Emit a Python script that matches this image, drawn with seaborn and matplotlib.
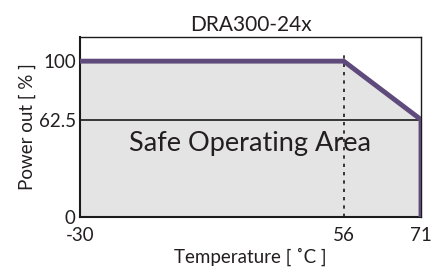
import numpy as np
import matplotlib
matplotlib.use("Agg")
import matplotlib.pyplot as plt
import seaborn as sns

# derating curve
temps = [-30, 56, 71, 71]
power = [100, 100, 62.5, 0]
x_ticks = [-30, 56, 71]
y_ticks = [0, 62.5, 100]
title = "DRA300-24x"

sns.set_style("white")
plt.rcParams['font.family'] = ['Lato', 'DejaVu Sans']

# the drawing is not to scale: piecewise linear x axis
xp = [-30, 56, 71]
fp = [0.0, 0.7735, 1.0]

def fwd(x):
    return np.interp(x, xp, fp)

def inv(x):
    return np.interp(x, fp, xp)

fig = plt.figure(figsize=(4.32, 2.71), dpi=100)
ax = fig.add_axes([0.185, 0.199, 0.7895, 0.6645])
ax.set_xscale('function', functions=(fwd, inv))

ax.fill_between(temps, power, 0, color='#e4e4e4', zorder=1)
ax.axhline(62.5, color='#1a1a1a', lw=1.2, zorder=2)
ax.plot([56, 56], [0, 106], color='#1a1a1a', lw=1.2, ls=(0, (2, 3)), zorder=2)
sns.lineplot(x=temps, y=power, sort=False, estimator=None, color='#5f4a7c',
             lw=3.5, ax=ax, zorder=3, solid_joinstyle='miter')

ax.text(25.6, 47, "Safe Operating Area", ha='center', va='center',
        fontsize=19.5, color='#231f20')

ax.set_xlim(-30, 71.1)
ax.set_ylim(0, 115.5)
ax.set_xticks(x_ticks)
ax.set_xticklabels([str(t) for t in x_ticks])
ax.set_yticks(y_ticks)
ax.set_yticklabels(['0', '62.5', '100'])
ax.tick_params(length=0, labelsize=13.5, colors='#231f20')
ax.tick_params(axis='x', pad=7)
ax.tick_params(axis='y', pad=3)
ax.set_title(title, fontsize=15, color='#231f20', pad=4)
ax.set_xlabel("Temperature [ ˚C ]", fontsize=13.5, color='#231f20', labelpad=3)
ax.set_ylabel("Power out [ % ]", fontsize=13.5, color='#231f20', labelpad=2)
for s in ax.spines.values():
    s.set_color('#1a1a1a')
    s.set_linewidth(1.0)
ax.spines['left'].set_linewidth(1.5)
ax.spines['bottom'].set_linewidth(1.5)

fig.savefig("out.png", dpi=100)
